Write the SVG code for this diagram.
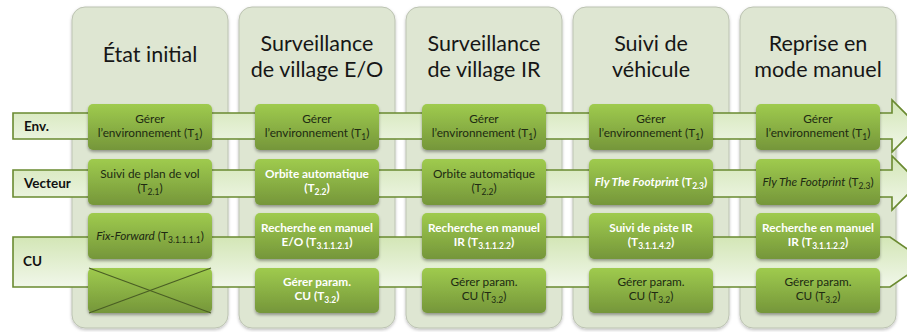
<svg xmlns="http://www.w3.org/2000/svg" width="907" height="332" viewBox="0 0 907 332">
<defs>
  <linearGradient id="gBox" x1="0" y1="0" x2="0" y2="1">
    <stop offset="0" stop-color="#9fcb4e"/>
    <stop offset="1" stop-color="#75963a"/>
  </linearGradient>
  <linearGradient id="gBand" x1="0" y1="0" x2="0" y2="1">
    <stop offset="0" stop-color="#d3e6b6"/>
    <stop offset="1" stop-color="#f1f7ea"/>
  </linearGradient>
  <filter id="sh" x="-10%" y="-10%" width="120%" height="130%">
    <feDropShadow dx="0" dy="2" stdDeviation="1.5" flood-color="#000" flood-opacity="0.35"/>
  </filter>
  <filter id="shc" x="-10%" y="-10%" width="120%" height="120%">
    <feDropShadow dx="0" dy="1.5" stdDeviation="1.5" flood-color="#000" flood-opacity="0.25"/>
  </filter>
</defs>
<style>
  .col { fill: #dee6d2; stroke: #bcc3b2; stroke-width: 1; filter: url(#shc); }
  .hd { font-family: Lato, "Liberation Sans", sans-serif; font-size: 21.5px; fill: #161616; text-anchor: middle; }
  .band { fill: url(#gBand); stroke: #6a8a30; stroke-width: 1.6; }
  .lbl { font-family: Lato, "Liberation Sans", sans-serif; font-size: 13.5px; font-weight: bold; fill: #111; }
  .box { fill: url(#gBox); filter: url(#sh); }
  .t { font-family: Lato, "Liberation Sans", sans-serif; font-size: 11.8px; fill: #202a12; text-anchor: middle; }
  .w { font-family: Lato, "Liberation Sans", sans-serif; font-size: 11.8px; font-weight: bold; fill: #ffffff; text-anchor: middle; }
  .s { font-size: 8.5px; }
  .x { stroke: #4a5e24; stroke-width: 1.2; }
</style>

<g id="columns">
  <g id="col1"><rect class="col" x="72" y="7" width="156" height="321" rx="13"/><text class="hd" x="150" y="62" font-size="22">État initial</text></g>
  <g id="col2"><rect class="col" x="239" y="7" width="156" height="321" rx="13"/><text class="hd" x="317" y="50.5">Surveillance</text><text class="hd" x="317" y="76.5">de village E/O</text></g>
  <g id="col3"><rect class="col" x="406" y="7" width="156" height="321" rx="13"/><text class="hd" x="484" y="50.5">Surveillance</text><text class="hd" x="484" y="76.5">de village IR</text></g>
  <g id="col4"><rect class="col" x="573" y="7" width="156" height="321" rx="13"/><text class="hd" x="651" y="50.5">Suivi de</text><text class="hd" x="651" y="76.5">véhicule</text></g>
  <g id="col5"><rect class="col" x="740" y="7" width="156" height="321" rx="13"/><text class="hd" x="818" y="50.5">Reprise en</text><text class="hd" x="818" y="76.5">mode manuel</text></g>
</g>

<g id="connectors">
  <g id="band-env"><polygon class="band" points="13,113 892,113 892,100 918,126 892,152 892,139 13,139"/><text class="lbl" x="24" y="131">Env.</text></g>
  <g id="band-vecteur"><polygon class="band" points="13,170 892,170 892,156 919,183 892,210 892,197 13,197"/><text class="lbl" x="24" y="188">Vecteur</text></g>
  <g id="band-cu"><polygon class="band" points="13,237 890,237 926,262 890,287 13,287"/><text class="lbl" x="23" y="266">CU</text></g>
</g>

<g id="c1-env"><rect class="box" x="88" y="104" width="124" height="46" rx="5"/><text class="t" x="150" y="123">Gérer</text><text class="t" x="150" y="137">l’environnement (T<tspan class="s" dy="3">1</tspan><tspan dy="-3">)</tspan></text></g>
<g id="c1-vec"><rect class="box" x="88" y="159" width="124" height="46" rx="5"/><text class="t" x="150" y="178">Suivi de plan de vol</text><text class="t" x="150" y="192">(T<tspan class="s" dy="3">2.1</tspan><tspan dy="-3">)</tspan></text></g>
<g id="c1-cu1"><rect class="box" x="88" y="213" width="124" height="46" rx="5"/><text class="t" x="150" y="240"><tspan font-style="italic">Fix-Forward</tspan> (T<tspan class="s" dy="3">3.1.1.1.1</tspan><tspan dy="-3">)</tspan></text></g>
<g id="c1-cu2"><rect class="box" x="88" y="268" width="124" height="45" rx="5"/><line class="x" x1="89" y1="268" x2="211" y2="313"/><line class="x" x1="89" y1="313" x2="211" y2="268"/></g>

<g id="c2-env"><rect class="box" x="255" y="104" width="124" height="46" rx="5"/><text class="t" x="317" y="123">Gérer</text><text class="t" x="317" y="137">l’environnement (T<tspan class="s" dy="3">1</tspan><tspan dy="-3">)</tspan></text></g>
<g id="c2-vec"><rect class="box" x="255" y="159" width="124" height="46" rx="5"/><text class="w" x="317" y="178">Orbite automatique</text><text class="w" x="317" y="192">(T<tspan class="s" dy="3">2.2</tspan><tspan dy="-3">)</tspan></text></g>
<g id="c2-cu1"><rect class="box" x="255" y="213" width="124" height="46" rx="5"/><text class="w" x="317" y="232">Recherche en manuel</text><text class="w" x="317" y="246">E/O (T<tspan class="s" dy="3">3.1.1.2.1</tspan><tspan dy="-3">)</tspan></text></g>
<g id="c2-cu2"><rect class="box" x="255" y="268" width="124" height="45" rx="5"/><text class="w" x="317" y="286">Gérer param.</text><text class="w" x="317" y="300">CU (T<tspan class="s" dy="3">3.2</tspan><tspan dy="-3">)</tspan></text></g>

<g id="c3-env"><rect class="box" x="422" y="104" width="124" height="46" rx="5"/><text class="t" x="484" y="123">Gérer</text><text class="t" x="484" y="137">l’environnement (T<tspan class="s" dy="3">1</tspan><tspan dy="-3">)</tspan></text></g>
<g id="c3-vec"><rect class="box" x="422" y="159" width="124" height="46" rx="5"/><text class="t" x="484" y="178">Orbite automatique</text><text class="t" x="484" y="192">(T<tspan class="s" dy="3">2.2</tspan><tspan dy="-3">)</tspan></text></g>
<g id="c3-cu1"><rect class="box" x="422" y="213" width="124" height="46" rx="5"/><text class="w" x="484" y="232">Recherche en manuel</text><text class="w" x="484" y="246">IR (T<tspan class="s" dy="3">3.1.1.2.2</tspan><tspan dy="-3">)</tspan></text></g>
<g id="c3-cu2"><rect class="box" x="422" y="268" width="124" height="45" rx="5"/><text class="t" x="484" y="286">Gérer param.</text><text class="t" x="484" y="300">CU (T<tspan class="s" dy="3">3.2</tspan><tspan dy="-3">)</tspan></text></g>

<g id="c4-env"><rect class="box" x="589" y="104" width="124" height="46" rx="5"/><text class="t" x="651" y="123">Gérer</text><text class="t" x="651" y="137">l’environnement (T<tspan class="s" dy="3">1</tspan><tspan dy="-3">)</tspan></text></g>
<g id="c4-vec"><rect class="box" x="589" y="159" width="124" height="46" rx="5"/><text class="w" x="651" y="186"><tspan font-style="italic">Fly The Footprint</tspan> (T<tspan class="s" dy="3">2.3</tspan><tspan dy="-3">)</tspan></text></g>
<g id="c4-cu1"><rect class="box" x="589" y="213" width="124" height="46" rx="5"/><text class="w" x="651" y="232">Suivi de piste IR</text><text class="w" x="651" y="246">(T<tspan class="s" dy="3">3.1.1.4.2</tspan><tspan dy="-3">)</tspan></text></g>
<g id="c4-cu2"><rect class="box" x="589" y="268" width="124" height="45" rx="5"/><text class="t" x="651" y="286">Gérer param.</text><text class="t" x="651" y="300">CU (T<tspan class="s" dy="3">3.2</tspan><tspan dy="-3">)</tspan></text></g>

<g id="c5-env"><rect class="box" x="756" y="104" width="124" height="46" rx="5"/><text class="t" x="818" y="123">Gérer</text><text class="t" x="818" y="137">l’environnement (T<tspan class="s" dy="3">1</tspan><tspan dy="-3">)</tspan></text></g>
<g id="c5-vec"><rect class="box" x="756" y="159" width="124" height="46" rx="5"/><text class="t" x="818" y="186"><tspan font-style="italic">Fly The Footprint</tspan> (T<tspan class="s" dy="3">2.3</tspan><tspan dy="-3">)</tspan></text></g>
<g id="c5-cu1"><rect class="box" x="756" y="213" width="124" height="46" rx="5"/><text class="w" x="818" y="232">Recherche en manuel</text><text class="w" x="818" y="246">IR (T<tspan class="s" dy="3">3.1.1.2.2</tspan><tspan dy="-3">)</tspan></text></g>
<g id="c5-cu2"><rect class="box" x="756" y="268" width="124" height="45" rx="5"/><text class="t" x="818" y="286">Gérer param.</text><text class="t" x="818" y="300">CU (T<tspan class="s" dy="3">3.2</tspan><tspan dy="-3">)</tspan></text></g>
</svg>
